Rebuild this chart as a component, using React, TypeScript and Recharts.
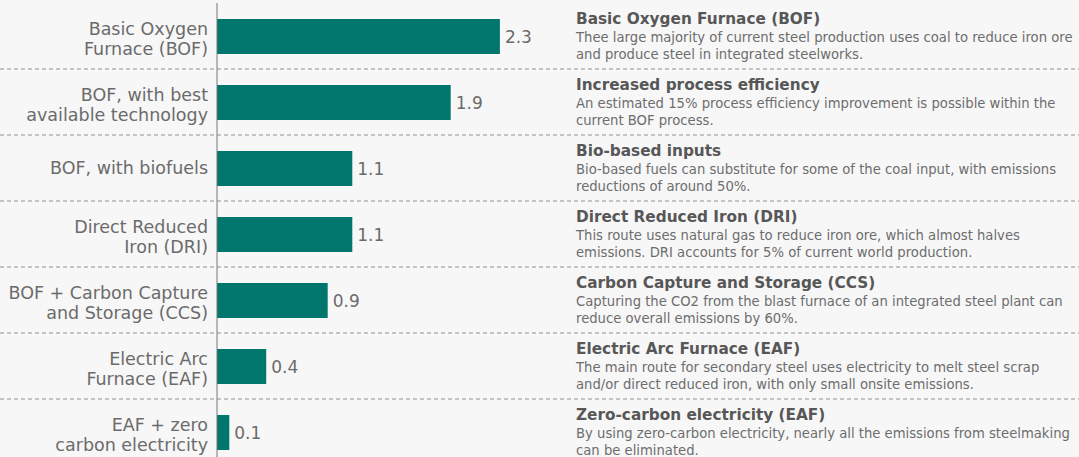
import React from "react";
import { BarChart, Bar, XAxis, YAxis, LabelList } from "recharts";

const categories: string[][] = [
  ["Basic Oxygen", "Furnace (BOF)"],
  ["BOF, with best", "available technology"],
  ["BOF, with biofuels"],
  ["Direct Reduced", "Iron (DRI)"],
  ["BOF + Carbon Capture", "and Storage (CCS)"],
  ["Electric Arc", "Furnace (EAF)"],
  ["EAF + zero", "carbon electricity"],
];

const values: number[] = [2.3, 1.9, 1.1, 1.1, 0.9, 0.4, 0.1];

const titles: string[] = [
  "Basic Oxygen Furnace (BOF)",
  "Increased process efficiency",
  "Bio-based inputs",
  "Direct Reduced Iron (DRI)",
  "Carbon Capture and Storage (CCS)",
  "Electric Arc Furnace (EAF)",
  "Zero-carbon electricity (EAF)",
];

const descriptions: string[][] = [
  ["Thee large majority of current steel production uses coal to reduce iron ore", "and produce steel in integrated steelworks."],
  ["An estimated 15% process efficiency improvement is possible within the", "current BOF process."],
  ["Bio-based fuels can substitute for some of the coal input, with emissions", "reductions of around 50%."],
  ["This route uses natural gas to reduce iron ore, which almost halves", "emissions. DRI accounts for 5% of current world production."],
  ["Capturing the CO2 from the blast furnace of an integrated steel plant can", "reduce overall emissions by 60%."],
  ["The main route for secondary steel uses electricity to melt steel scrap", "and/or direct reduced iron, with only small onsite emissions."],
  ["By using zero-carbon electricity, nearly all the emissions from steelmaking", "can be eliminated."],
];

const data = categories.map((c, i) => ({
  name: c.join(" "),
  value: values[i],
}));

const W = 1079;
const H = 465;
const TOP = 3;
const LEFT_W = 217;
const RIGHT_W = 509;
const BAND = (H - TOP) / categories.length;
const FONT = "'DejaVu Sans', sans-serif";

const LeftTick = (props: any) => {
  const { y, index } = props;
  const lines = categories[index] || [];
  const cy = y;
  return (
    <g>
      {lines.length === 1 ? (
        <text x={208} y={cy + 6} textAnchor="end" fill="#6b6b6b" fontSize={17.5} fontFamily={FONT}>
          {lines[0]}
        </text>
      ) : (
        lines.map((l, k) => (
          <text key={k} x={208} y={cy - 1 + k * 20} textAnchor="end" fill="#6b6b6b" fontSize={17.5} fontFamily={FONT}>
            {l}
          </text>
        ))
      )}
      {index < categories.length - 1 && (
        <line x1={0} x2={W} y1={cy + BAND / 2} y2={cy + BAND / 2} stroke="#8f8f8f" strokeWidth={1} strokeDasharray="4 3" />
      )}
    </g>
  );
};

const RightTick = (props: any) => {
  const { y, index } = props;
  const cy = y;
  const x0 = W - RIGHT_W + 6;
  const desc = descriptions[index] || [];
  return (
    <g>
      <text x={x0} y={cy - 12} fill="#575757" fontSize={15.3} fontWeight="bold" fontFamily={FONT}>
        {titles[index]}
      </text>
      {desc.map((l, k) => (
        <text key={k} x={x0} y={cy + 6 + k * 17} fill="#6d6d6d" fontSize={13.2} fontFamily={FONT}>
          {l}
        </text>
      ))}
    </g>
  );
};

export default function App() {
  return (
    <div style={{ width: W, height: 457, overflow: "hidden", background: "#f7f7f7" }}>
      <style>{"body{margin:0;background:#f7f7f7;}"}</style>
      <BarChart
        width={W}
        height={H}
        data={data}
        layout="vertical"
        margin={{ top: TOP, right: 0, bottom: 0, left: 0 }}
        barCategoryGap={0}
      >
        <XAxis type="number" domain={[0, 2.87]} hide />
        <YAxis
          yAxisId="left"
          type="category"
          dataKey="name"
          width={LEFT_W}
          axisLine={{ stroke: "#777777", strokeWidth: 1 }}
          tickLine={false}
          tick={<LeftTick />}
          interval={0}
        />
        <YAxis
          yAxisId="right"
          orientation="right"
          type="category"
          dataKey="name"
          width={RIGHT_W}
          axisLine={false}
          tickLine={false}
          tick={<RightTick />}
          interval={0}
        />
        <Bar dataKey="value" yAxisId="left" fill="#00766c" barSize={35} isAnimationActive={false}>
          <LabelList dataKey="value" position="right" offset={5} fill="#6b6b6b" fontSize={17} fontFamily={FONT} />
        </Bar>
      </BarChart>
    </div>
  );
}
